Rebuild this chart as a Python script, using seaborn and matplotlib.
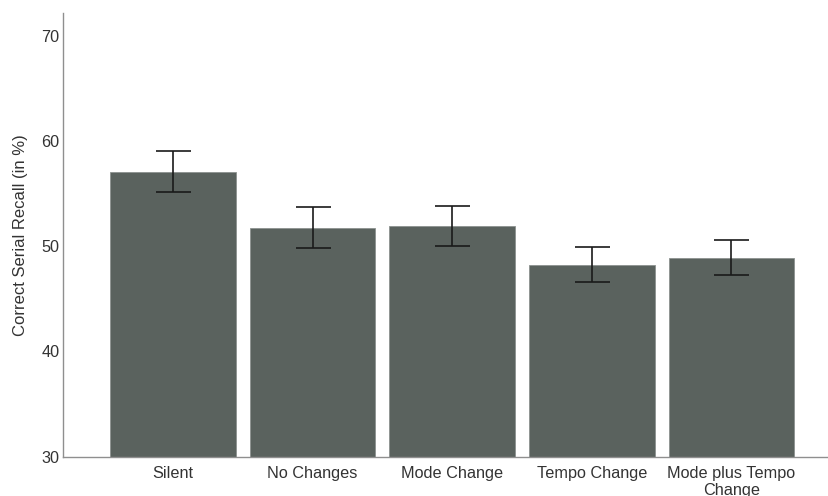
import numpy as np
import pandas as pd
import seaborn as sns
import matplotlib.pyplot as plt

# values
conditions = ["Silent", "No Changes", "Mode Change", "Tempo Change", "Mode plus Tempo\nChange"]
recall = [57.1, 51.7, 51.9, 48.2, 48.9]
err_low = [55.2, 49.8, 50.0, 46.6, 47.3]
err_high = [59.1, 53.7, 53.8, 49.9, 50.6]

BAR_COLOR = "#5a625e"
TEXT_COLOR = "#333333"

sns.set_style("white")
plt.rcParams["font.family"] = ["Liberation Sans", "DejaVu Sans"]

df = pd.DataFrame({"condition": conditions, "recall": recall})

fig = plt.figure(figsize=(8.29, 4.96), dpi=100)
ax = fig.add_axes([63.5 / 829, 39.3 / 496, (828 - 63.5) / 829, (456.7 - 12.7) / 496])

sns.barplot(data=df,
            x="condition",
            y="recall",
            color=BAR_COLOR,
            saturation=1,
            width=0.9,
            edgecolor="#8c928f",
            linewidth=0.6,
            errorbar=None,
            ax=ax)

mean = np.asarray(recall)
yerr = np.vstack([mean - np.asarray(err_low), np.asarray(err_high) - mean])
ax.errorbar(x=range(len(conditions)),
            y=mean,
            yerr=yerr,
            fmt="none",
            ecolor="#1a1a1a",
            elinewidth=1.2,
            capthick=1.2,
            capsize=12.6)

ax.set_ylim(30, 72.2)
ax.set_xlim(-0.784, 4.692)
ax.set_yticks([30, 40, 50, 60, 70])
ax.set_xlabel("")
ax.set_ylabel("Correct Serial Recall (in %)", fontsize=12, color=TEXT_COLOR, labelpad=9.5)
ax.tick_params(axis="x", length=0, pad=7, labelsize=11.7, labelcolor=TEXT_COLOR)
ax.tick_params(axis="y", length=0, pad=3, labelsize=11.7, labelcolor=TEXT_COLOR)
for lbl in ax.get_xticklabels():
    lbl.set_linespacing(1.1)

ax.spines['right'].set_visible(False)
ax.spines['top'].set_visible(False)
for side in ["left", "bottom"]:
    ax.spines[side].set_color("#8f8f8f")
    ax.spines[side].set_linewidth(1.0)

plt.savefig("out.png", dpi=100)
plt.close()
